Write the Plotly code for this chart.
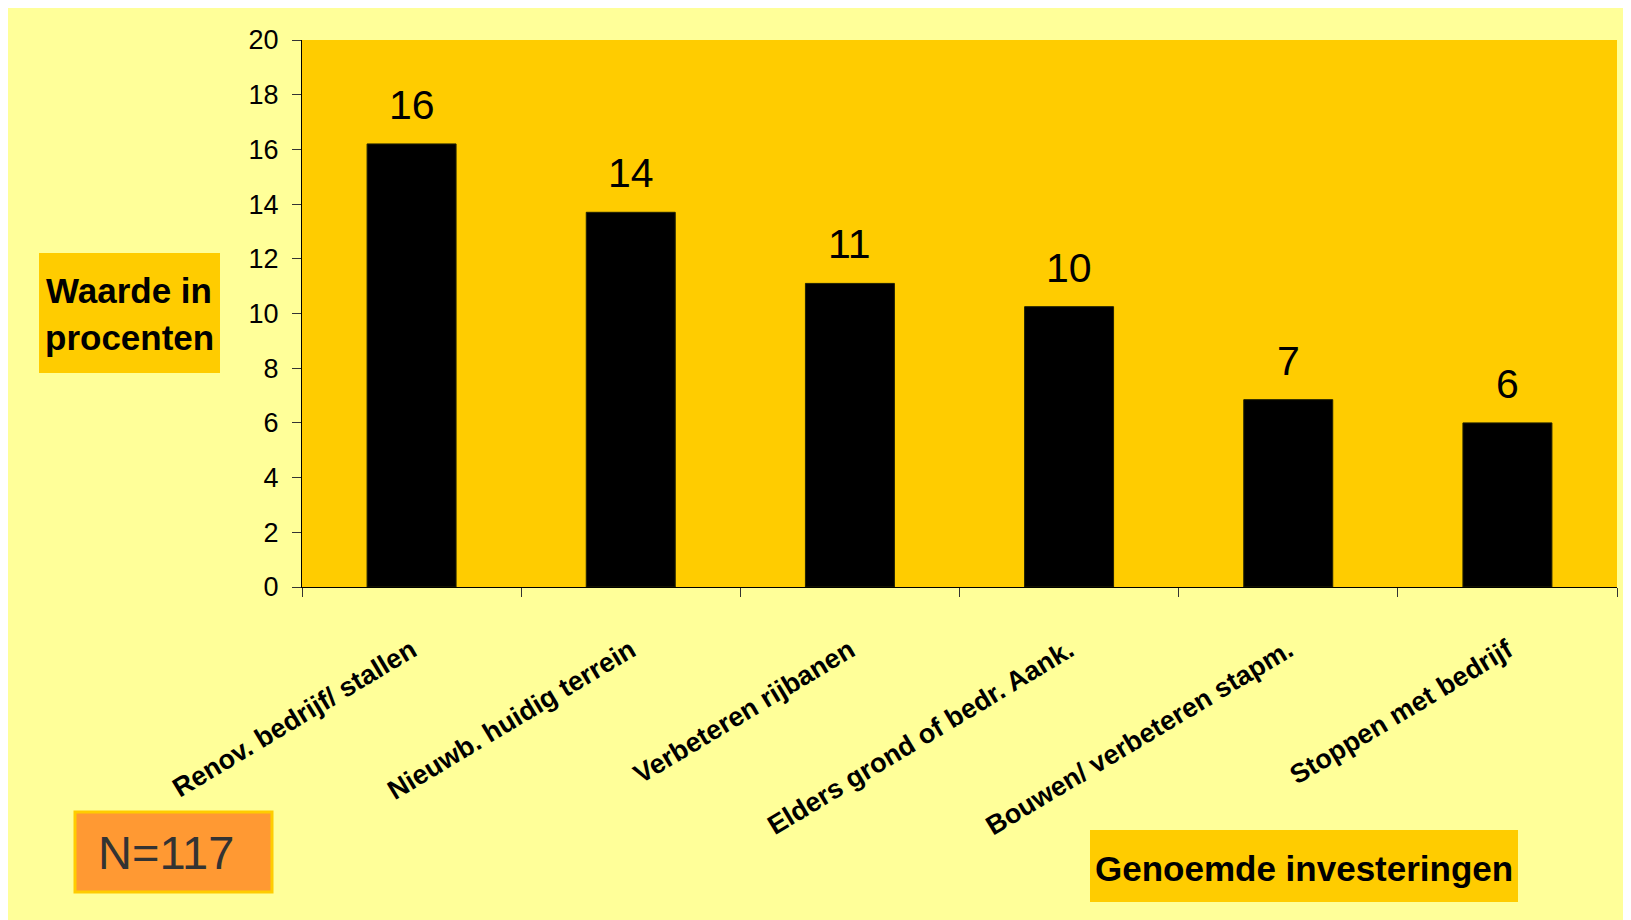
import plotly.graph_objects as go

categories = [
    "Renov. bedrijf/ stallen",
    "Nieuwb. huidig terrein",
    "Verbeteren rijbanen",
    "Elders grond of bedr. Aank.",
    "Bouwen/ verbeteren stapm.",
    "Stoppen met bedrijf",
]
values = [16.2, 13.7, 11.1, 10.25, 6.85, 6.0]
y_ticks = [0, 2, 4, 6, 8, 10, 12, 14, 16, 18, 20]

W, H = 1631, 920
OFF = 8  # page offset of the figure (default body margin)
# plot area in page pixels: x 302..1617, y 40..587
PL, PR, PT, PB = 302, 1617, 40, 587
L, T = PL - OFF, PT - OFF
R = W - (PR - OFF)
B = H - (PB - OFF)
PW, PH = PR - PL, PB - PT


def px(x):
    return (x - PL) / PW


def py(y):
    return (PB - y) / PH


FONT = "Arial, Liberation Sans, sans-serif"

fig = go.Figure()
fig.add_trace(go.Bar(
    x=categories, y=values,
    marker=dict(color="#000000", line=dict(color="#222200", width=1)),
    hoverinfo="skip",
))

annotations = []
for c, v in zip(categories, values):
    annotations.append(dict(
        x=c, y=v, xref="x", yref="y", text=f"{round(v)}", showarrow=False,
        yanchor="bottom", xanchor="center", yshift=14,
        font=dict(family=FONT, size=41, color="#000000"),
    ))

annotations += [
    dict(x=px(129.5), y=py(290), xref="paper", yref="paper", text="<b>Waarde in</b>",
         showarrow=False, xanchor="center", yanchor="middle",
         font=dict(family=FONT, size=35, color="#000000")),
    dict(x=px(129.5), y=py(337), xref="paper", yref="paper", text="<b>procenten</b>",
         showarrow=False, xanchor="center", yanchor="middle",
         font=dict(family=FONT, size=35, color="#000000")),
    dict(x=px(1304), y=py(868), xref="paper", yref="paper", text="<b>Genoemde investeringen</b>",
         showarrow=False, xanchor="center", yanchor="middle",
         font=dict(family=FONT, size=35, color="#000000")),
    dict(x=px(166), y=py(852), xref="paper", yref="paper", text="N=117",
         showarrow=False, xanchor="center", yanchor="middle",
         font=dict(family=FONT, size=47, color="#333333")),
]

shapes = [
    dict(type="rect", xref="paper", yref="paper", x0=px(39), x1=px(220), y0=py(373), y1=py(253),
         fillcolor="#FFCC00", line=dict(width=0)),
    dict(type="rect", xref="paper", yref="paper", x0=px(1090), x1=px(1518), y0=py(902), y1=py(830),
         fillcolor="#FFCC00", line=dict(width=0)),
    dict(type="rect", xref="paper", yref="paper", x0=px(75), x1=px(272), y0=py(892), y1=py(812),
         fillcolor="#FF9933", line=dict(width=3, color="#FFCC00")),
]

fig.update_layout(
    width=W, height=H,
    margin=dict(l=L, r=R, t=T, b=B, pad=0),
    paper_bgcolor="#FFFF99",
    plot_bgcolor="#FFCC00",
    showlegend=False,
    bargap=0.594,
    annotations=annotations,
    shapes=shapes,
    font=dict(family=FONT, color="#000000"),
)
fig.update_xaxes(
    type="category",
    tickson="boundaries",
    ticks="outside", ticklen=9, tickcolor="#333333", tickwidth=1,
    showline=True, linecolor="#000000", linewidth=1,
    showgrid=False, zeroline=False,
    tickangle=-31,
    ticklabelstandoff=36,
    tickfont=dict(family=FONT, size=27, color="#000000"),
    tickprefix="<b>", ticksuffix="</b>",
)
fig.update_yaxes(
    range=[0, 20],
    tickvals=y_ticks,
    ticks="outside", ticklen=9, tickcolor="#333333", tickwidth=1,
    showline=True, linecolor="#000000", linewidth=1,
    showgrid=False, zeroline=False,
    ticklabelstandoff=8,
    tickfont=dict(family=FONT, size=27, color="#000000"),
)

fig.write_html("out.html")
